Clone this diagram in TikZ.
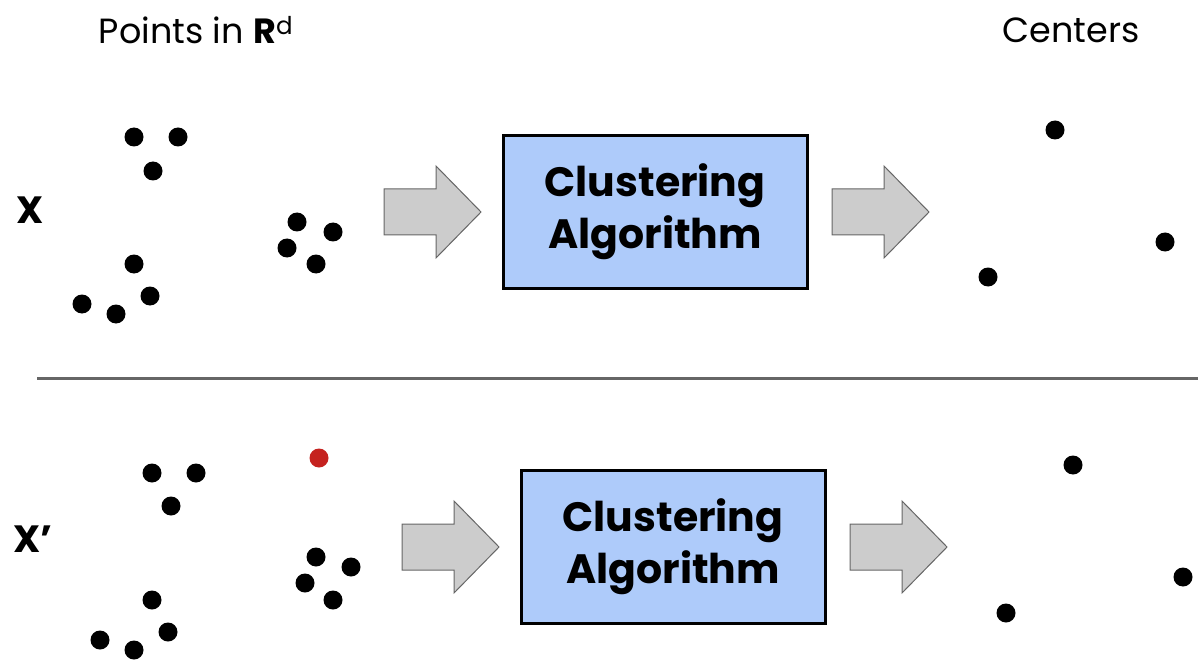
\documentclass[tikz,border=0pt]{standalone}
\usepackage{fontspec}
\setmainfont{Poppins}
\definecolor{boxblue}{HTML}{AECBFA}
\definecolor{arrowgray}{HTML}{CCCCCC}
\definecolor{arrowedge}{HTML}{666666}
\definecolor{rulegray}{HTML}{666666}
\definecolor{outlier}{HTML}{C5221F}
\begin{document}
\begin{tikzpicture}[x=1pt,y=-1pt,
  pt/.style={circle,fill=black,inner sep=0pt,minimum size=19pt},
  redpt/.style={circle,fill=outlier,inner sep=0pt,minimum size=19pt},
  algobox/.style={draw=black,line width=3pt,fill=boxblue,minimum width=304pt,minimum height=153pt,
    inner sep=0pt,align=center,font=\fontsize{41}{52}\selectfont\bfseries},
  fatarrow/.style={fill=arrowgray,draw=arrowedge,line width=1pt,line join=miter},
  toplabel/.style={font=\fontsize{35}{40}\selectfont,anchor=center},
  setlabel/.style={font=\fontsize{38}{40}\selectfont\bfseries,anchor=center}]
\useasboundingbox (0,0) rectangle (1198,660);

% headings
\node[toplabel] (hpts) at (196,30) {Points in \textbf{R}\textsuperscript{d}};
\node[toplabel] (hctr) at (1071,30) {Centers};

% set labels
\node[setlabel] (lx)  at (30,210) {X};
\node[setlabel] (lxp) at (33,539) {X’};

% input points, first data set
\foreach \n/\x/\y in {a1/134/137,a2/178/137,a3/153/171,a4/134/264,a5/82/304,a6/116/314,a7/150/296,
                      a8/297/222,a9/333/232,a10/287/248,a11/316/264}
  \node[pt] (\n) at (\x,\y) {};

% output centers, first data set
\foreach \n/\x/\y in {c1/1055/130,c2/1165/242,c3/988/277}
  \node[pt] (\n) at (\x,\y) {};

% input points, second data set
\foreach \n/\x/\y in {b1/152/473,b2/196/473,b3/171/506,b4/152/600,b5/100/640,b6/134/650,b7/168/632,
                      b8/316/557,b9/351/567,b10/305/583,b11/333/600}
  \node[pt] (\n) at (\x,\y) {};
\node[redpt] (bred) at (319,458) {};

% output centers, second data set
\foreach \n/\x/\y in {d1/1073/465,d2/1183/577,d3/1006/613}
  \node[pt] (\n) at (\x,\y) {};

% algorithm boxes
\node[algobox] (alg1) at (655,212) {Clustering\\Algorithm};
\node[algobox] (alg2) at (673,547) {Clustering\\Algorithm};

% block arrows: (left end, centre line y)
\foreach \ax/\ay in {384/212,832/212,402/547,850/547}
  \draw[fatarrow] (\ax,\ay-23) -- (\ax+52,\ay-23) -- (\ax+52,\ay-46) -- (\ax+97,\ay)
     -- (\ax+52,\ay+46) -- (\ax+52,\ay+23) -- (\ax,\ay+23) -- cycle;

% divider
\draw[rulegray,line width=3pt] (37,378) -- (1198,378);
\end{tikzpicture}
\end{document}
